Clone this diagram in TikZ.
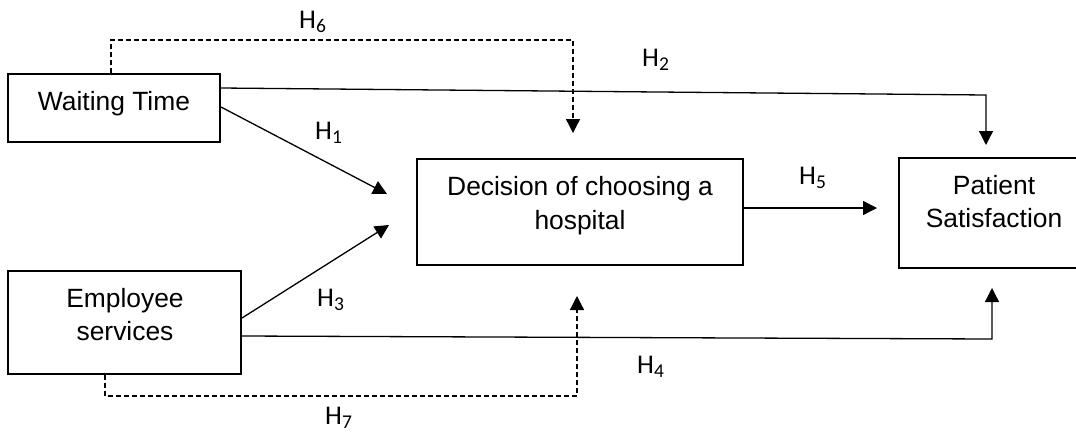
\documentclass[tikz,border=0pt]{standalone}
\usepackage{fontspec}
\setmainfont{Liberation Sans}
\newfontfamily\labfont{Carlito}
\usetikzlibrary{arrows.meta}
\newcommand{\Hsub}[1]{{\labfont\fontsize{27}{27}\selectfont H\raisebox{-4pt}{\fontsize{19.5}{19.5}\selectfont #1}}}
\tikzset{
  box/.style={draw=black, line width=2pt, rectangle, inner sep=0pt},
  thickbox/.style={box, line width=2.8pt},
  txt/.style={inner sep=0pt, anchor=base, font=\fontsize{26.4}{33}\selectfont},
  conn/.style={line width=1.3pt, -{Triangle[length=14pt,width=14pt]}},
  dconn/.style={conn, dash pattern=on 5pt off 3pt},
  hlab/.style={inner sep=0pt, anchor=base west}
}
\begin{document}
\begin{tikzpicture}[x=1pt,y=-1pt]
\useasboundingbox (0,0) rectangle (1076,432);
\clip (0,0) rectangle (1076,432);
% boxes
\node[box, minimum width=212pt, minimum height=68pt] (wt) at (114,108) {};
\node[box, minimum width=233pt, minimum height=103pt] (es) at (124.5,322.5) {};
\node[thickbox, minimum width=326pt, minimum height=106pt] (dec) at (580,212) {};
\node[box, minimum width=190pt, minimum height=110pt] (ps) at (994,213) {};
% texts
\node[txt] (wtl) at (114,110) {Waiting Time};
\node[txt] (esl1) at (125,307) {Employee};
\node[txt] (esl2) at (125,340) {services};
\node[txt] (decl1) at (580,195) {Decision of choosing a};
\node[txt] (decl2) at (580,229) {hospital};
\node[txt] (psl1) at (994,194) {Patient};
\node[txt] (psl2) at (994,227) {Satisfaction};
% coordinates
\coordinate (h6c) at (573,40);
\coordinate (h6t) at (573,133);
\coordinate (h2c) at (986,95);
\coordinate (h2t) at (986,145);
\coordinate (h1t) at (387,194);
\coordinate (h3t) at (389,225);
\coordinate (h5t) at (877,208);
\coordinate (h4c) at (992,339);
\coordinate (h4t) at (992,288);
\coordinate (h7c) at (577,396);
\coordinate (h7t) at (577,296);
% connectors
\draw[dconn] ([xshift=-3pt]wt.north) |- (h6c) -- (h6t);
\draw[conn] ([yshift=20pt]wt.east) -- (h2c) -- (h2t);
\draw[conn] ([yshift=1pt]wt.east) -- (h1t);
\draw[conn] ([yshift=4.5pt]es.east) -- (h3t);
\draw[conn] ([yshift=-13.5pt]es.east) -- (h4c) -- (h4t);
\draw[conn] ([yshift=4pt]dec.east) -- (h5t);
\draw[dconn] ([xshift=-19.5pt]es.south) |- (h7c) -- (h7t);
% labels
\node[hlab] (l6) at (299,28) {\Hsub{6}};
\node[hlab] (l2) at (642,66) {\Hsub{2}};
\node[hlab] (l1) at (315,139) {\Hsub{1}};
\node[hlab] (l5) at (799,184) {\Hsub{5}};
\node[hlab] (l3) at (317,306) {\Hsub{3}};
\node[hlab] (l4) at (637,373) {\Hsub{4}};
\node[hlab] (l7) at (325,424) {\Hsub{7}};
\end{tikzpicture}
\end{document}
